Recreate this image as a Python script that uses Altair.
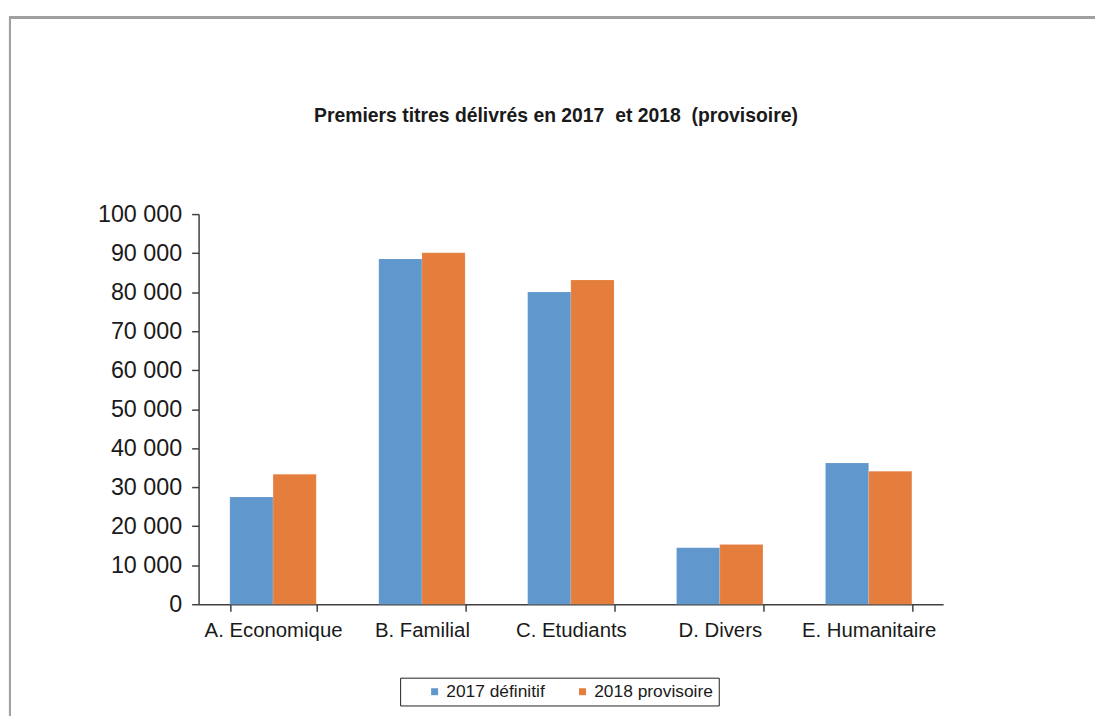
import altair as alt
import pandas as pd

categories = ["A. Economique", "B. Familial", "C. Etudiants", "D. Divers", "E. Humanitaire"]
series = ["2017 définitif", "2018 provisoire"]
values_2017 = [27500, 88500, 80000, 14500, 36200]
values_2018 = [33300, 90100, 83100, 15300, 34100]

rows = []
for c, v1, v2 in zip(categories, values_2017, values_2018):
    rows.append({"cat": c, "serie": series[0], "val": v1})
    rows.append({"cat": c, "serie": series[1], "val": v2})
df = pd.DataFrame(rows)

FONT = "Liberation Sans"
AXC = "#404040"
NB = "\u00a0"

bars = alt.Chart(df).mark_bar(stroke="#ffffff", strokeOpacity=0.25, strokeWidth=0.5).encode(
    x=alt.X("cat:N", sort=categories, title=None,
            scale=alt.Scale(paddingInner=0.42, paddingOuter=0.21),
            axis=alt.Axis(labelAngle=0, tickBand="extent", labelFontSize=20.5, labelFont=FONT,
                          labelColor="#1a1a1a", domainColor=AXC, tickColor=AXC, domainWidth=1.5,
                          tickWidth=1.5, tickSize=7, labelPadding=10, grid=False)),
    xOffset=alt.XOffset("serie:N", sort=series),
    y=alt.Y("val:Q", title=None,
            scale=alt.Scale(domain=[0, 100000], nice=False),
            axis=alt.Axis(values=list(range(0, 100001, 10000)),
                          labelExpr="replace(format(datum.value, ','), ',', ' ')",
                          labelFontSize=23.5, labelFont=FONT, labelColor="#1a1a1a",
                          domainColor=AXC, tickColor=AXC, domainWidth=1.5, tickWidth=1.5,
                          tickSize=7, labelPadding=10, grid=False)),
    color=alt.Color("serie:N", sort=series, title=None,
                    scale=alt.Scale(domain=series, range=["#6097cd", "#e57e3d"]),
                    legend=alt.Legend(orient="none", legendX=203, legendY=467, direction="horizontal",
                                      symbolType="square", symbolSize=49, symbolStrokeWidth=0,
                                      labelFontSize=17.5, labelFont=FONT, labelColor="#1a1a1a",
                                      labelExpr="datum.label + '" + NB * 3 + "'",
                                      strokeColor="#222222", padding=5, symbolOffset=21,
                                      labelOffset=3, columnPadding=8)),
)

frame_top = alt.Chart(df).mark_rule(color="#a0a0a0", strokeWidth=2).encode(
    x=alt.value(-191), x2=alt.value(904), y=alt.value(-198)
)
frame_left = alt.Chart(df).mark_rule(color="#a0a0a0", strokeWidth=2).encode(
    x=alt.value(-190), y=alt.value(-198), y2=alt.value(505)
)

chart = alt.layer(frame_top, frame_left, bars).properties(
    width=750, height=393,
    title=alt.TitleParams("Premiers titres délivrés en 2017" + NB + " et 2018" + NB + " (provisoire)",
                          fontSize=19.5, font=FONT, fontWeight="bold", color="#1a1a1a",
                          anchor="middle", dx=-15, dy=197, offset=86),
    padding={"left": 192, "top": 205, "right": 153, "bottom": 112},
    autosize=alt.AutoSizeParams(type="none"),
).configure_view(stroke=None)

chart.save("out.html", embed_options={"renderer": "svg", "actions": False})
